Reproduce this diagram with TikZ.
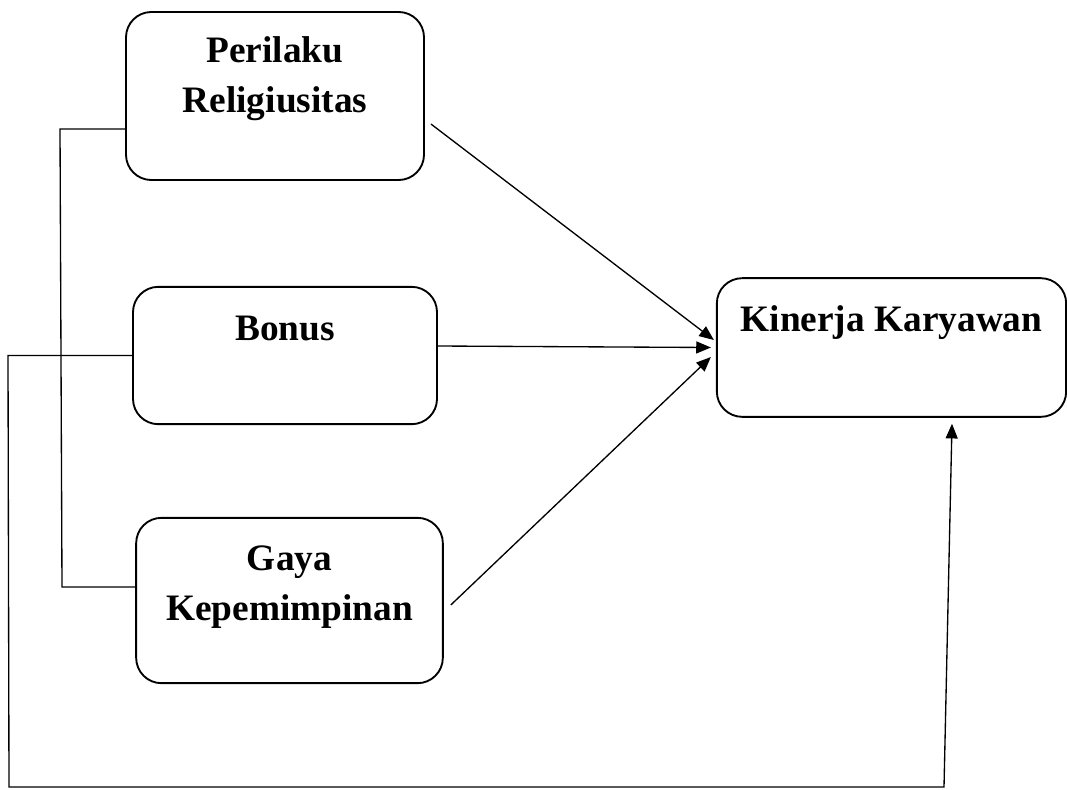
\documentclass[tikz,border=0pt]{standalone}
\usepackage{fontspec}
\setmainfont{Liberation Serif}
\usetikzlibrary{arrows.meta,calc}
\begin{document}
\begin{tikzpicture}[x=0.75pt,y=-0.75pt,>={Triangle[length=11pt,width=9pt]},
  var/.style={draw,line width=1.4pt,rounded corners=19pt,inner sep=0pt},
  txt/.style={font=\fontsize{28}{37}\selectfont\bfseries,align=center,anchor=center},
  link/.style={line width=1pt}]
\useasboundingbox (0,0) rectangle (1067,789);
% variables
\node[var,minimum width=223.5pt,minimum height=126pt,label={[txt,yshift=13pt]center:{Perilaku\\Religiusitas}}] (rel) at (275,96) {};
\node[var,minimum width=228pt,minimum height=103pt,label={[txt,yshift=20.5pt]center:Bonus}] (bonus) at (285,355.5) {};
\node[var,minimum width=230pt,minimum height=124pt,label={[txt,yshift=10pt]center:{Gaya\\Kepemimpinan}}] (gaya) at (289.5,600.5) {};
\node[var,minimum width=262pt,minimum height=104pt,label={[txt,yshift=19pt]center:Kinerja Karyawan}] (kin) at (891.5,347.5) {};
% direct effects
\draw[link,->] ($(rel.east)+(6,28)$) -- ($(kin.west)+(-2,-7.5)$);
\draw[link,->] ($(bonus.east)+(0,-9.5)$) -- ($(kin.west)+(-5,0)$);
\draw[link,->] ($(gaya.east)+(7,4.5)$) -- ($(kin.west)+(-5,9.5)$);
% side lines
\coordinate (b1) at (60,129); \coordinate (b2) at (62,587);
\draw[link] ($(rel.west)+(0,33)$) -- (b1) -- (b2) -- ($(gaya.west)+(0,-13.5)$);
\coordinate (o1) at (8,355.5); \coordinate (o2) at (9,787); \coordinate (o3) at (944,787);
\draw[link,->] (bonus.west) -- (o1) -- (o2) -- (o3) -- ($(kin.south)+(60.5,6)$);
\end{tikzpicture}
\end{document}
